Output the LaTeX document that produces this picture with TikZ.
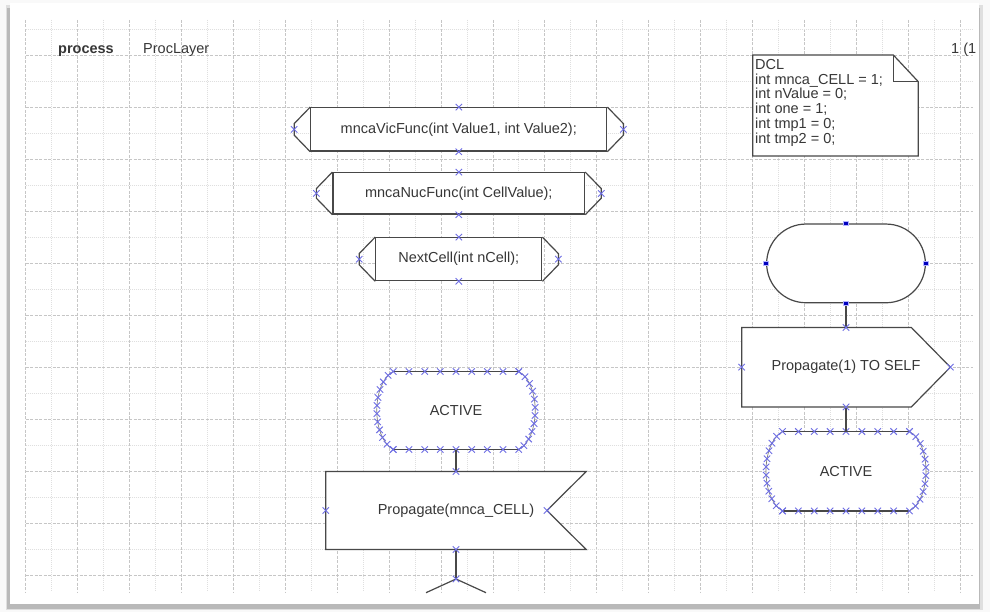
\documentclass[tikz,border=0pt]{standalone}
\usepackage{fontspec}
\setmainfont{Liberation Sans}
\usetikzlibrary{positioning, calc, shapes.misc, decorations.markings}

\definecolor{markblue}{RGB}{110,110,228}
\definecolor{linegray}{RGB}{72,72,72}
\definecolor{textgray}{RGB}{55,55,55}
\newcommand\sigfont{\fontsize{14.5}{14.8}\selectfont}

\pgfdeclarelayer{paper}
\pgfdeclarelayer{frames}
\pgfsetlayers{paper,frames,main}

\tikzset{
  outline/.style={draw=linegray, line width=1.2pt},
  plain/.style={inner sep=0pt, font=\sigfont, text=textgray},
  body/.style={plain, outline, fill=white},
  xcross/.style={draw=markblue, cross out, inner sep=0pt, minimum size=5.5pt, line width=0.9pt},
  sqdot/.style={rectangle, fill=blue!75!black, draw=blue!30, line width=0.8pt, inner sep=0pt, minimum size=4.6pt},
  gridmajor/.style={draw=gray!45, line width=0.6pt, dash pattern=on 3pt off 1.5pt},
  gridminor/.style={draw=gray!25, line width=0.6pt, dash pattern=on 1pt off 1pt},
  sidemarks/.style={postaction={decorate, decoration={markings,
      mark=between positions 0 and 1 step 8.2pt with {\node[xcross] {};}}}}
}

\begin{document}
\begin{tikzpicture}[x=1pt, y=-1pt]
    \useasboundingbox (0,0) rectangle (990,612);

    \begin{pgfonlayer}{paper}
    % Page and shadow
    \fill[gray!5] (0,0) rectangle (990,612);
    \fill[gray!25] (6,5) rectangle (983,610);
    \fill[gray!55] (7,8) rectangle (980,609);
    \fill[white] (10,3) rectangle (979,604);

    % Grid
    \foreach \k in {0,2,...,36}
        \draw[gridmajor] ({25.7+25.95*\k},20) -- ++(0,572);
    \foreach \k in {1,3,...,35}
        \draw[gridminor] ({25.7+25.95*\k},20) -- ++(0,572);
    \foreach \k in {1,3,...,21}
        \draw[gridmajor] (25.7,{29+26*\k}) -- (973,{29+26*\k});
    \foreach \k in {0,2,...,20}
        \draw[gridminor] (25.7,{29+26*\k}) -- (973,{29+26*\k});
    \end{pgfonlayer}

    % Header
    \node[plain, font=\sigfont\bfseries, anchor=base west] (kw) at (58,54) {process};
    \node[plain, anchor=base west] (pname) at (143,54) {ProcLayer};
    \node[plain, anchor=base west] (pageno) at (951,54) {1 (1};

    % Declarations
    \draw[outline, fill=white] (752.7,55) -- (893.3,55) -- (918.3,81.7) -- (918.3,156) -- (752.7,156) -- cycle;
    \draw[outline] (893.3,55) -- (893.3,81.7) -- (918.3,81.7);
    \node[plain, anchor=north west, align=left] (dcl) at (755,59)
        {DCL\\int mnca\_CELL = 1;\\int nValue = 0;\\int one = 1;\\int tmp1 = 0;\\int tmp2 = 0;};

    % Procedure references
    \node[body, minimum width=296pt, minimum height=43.4pt] (vic) at (458.8,129.4) {mncaVicFunc(int Value1, int Value2);};
    \node[body, minimum width=251.7pt, minimum height=41.4pt] (nuc) at (458.8,193.4) {mncaNucFunc(int CellValue);};
    \node[body, minimum width=166pt, minimum height=43pt] (nxt) at (458.8,259.2) {NextCell(int nCell);};
    \foreach \n in {vic,nuc,nxt} {
        \draw[outline] (\n.north west) -- ([shift={(-16pt,-16.5pt)}]\n.north west)
            -- ([shift={(-16pt,16.5pt)}]\n.south west) -- (\n.south west);
        \draw[outline] (\n.north east) -- ([shift={(16pt,-16.5pt)}]\n.north east)
            -- ([shift={(16pt,16.5pt)}]\n.south east) -- (\n.south east);
        \node[xcross] at ([xshift=-16pt]\n.west) {};
        \node[xcross] at ([xshift=16pt]\n.east) {};
        \node[xcross] at (\n.north) {};
        \node[xcross] at (\n.south) {};
    }

    % Start, output and state (right column)
    \node[body, rounded corners=39.35pt, minimum width=158.7pt, minimum height=78.7pt] (start) at (846,263.4) {};
    \node[plain, minimum width=208.3pt, minimum height=79pt] (sig) at (846,367.2) {Propagate(1) TO SELF};
    \node[plain, minimum width=126.6pt, minimum height=79pt] (act2) at (846,471.2) {ACTIVE};

    % State, input and decision (left column)
    \node[plain, minimum width=125pt, minimum height=77.6pt] (act1) at (456,410.5) {ACTIVE};
    \node[plain, minimum width=260pt, minimum height=77.6pt] (rcv) at (456,510.5) {Propagate(mnca\_CELL)};
    \coordinate (dectop) at (456,579);

    \begin{pgfonlayer}{frames}
    \draw[outline, fill=white] (sig.north west) -- ([xshift=-39pt]sig.north east) -- (sig.east)
        -- ([xshift=-39pt]sig.south east) -- (sig.south west) -- cycle;
    \draw[outline, fill=white] (rcv.north west) -- (rcv.north east) -- ([xshift=-39.3pt]rcv.east)
        -- (rcv.south east) -- (rcv.south west) -- cycle;
    \foreach \n in {act1,act2} {
        \fill[white] (\n.north west) -- (\n.north east) .. controls +(22,12) and +(22,-12) .. (\n.south east)
            -- (\n.south west) .. controls +(-22,-12) and +(-22,12) .. (\n.north west) -- cycle;
        \draw[draw=linegray!70, line width=0.7pt, sidemarks] (\n.north east) .. controls +(22,12) and +(22,-12) .. (\n.south east);
        \draw[draw=linegray!70, line width=0.7pt, sidemarks] (\n.south west) .. controls +(-22,-12) and +(-22,12) .. (\n.north west);
        \draw[outline, line width=1.7pt] (\n.north west) -- (\n.north east);
        \draw[outline, line width=1.7pt] (\n.south west) -- (\n.south east);
        \foreach \i in {0,...,8} {
            \node[xcross] at ($(\n.north west)!\i/8!(\n.north east)$) {};
            \node[xcross] at ($(\n.south west)!\i/8!(\n.south east)$) {};
        }
    }
    \end{pgfonlayer}

    % Connectors
    \draw[outline] (start.south) -- (sig.north);
    \draw[outline] (sig.south) -- (act2.north);
    \draw[outline] (act1.south) -- (rcv.north);
    \draw[outline] (rcv.south) -- (dectop);
    \draw[outline] ([shift={(-30pt,-13.7pt)}]dectop) -- (dectop) -- ([shift={(30pt,-13.7pt)}]dectop);

    % Connection points
    \foreach \a in {north,south,east,west}
        \node[sqdot] at (start.\a) {};
    \foreach \p in {sig.north,sig.south,sig.west,sig.east,rcv.north,rcv.south,rcv.west,dectop}
        \node[xcross] at (\p) {};
    \node[xcross] at ([xshift=-39.3pt]rcv.east) {};
\end{tikzpicture}
\end{document}
